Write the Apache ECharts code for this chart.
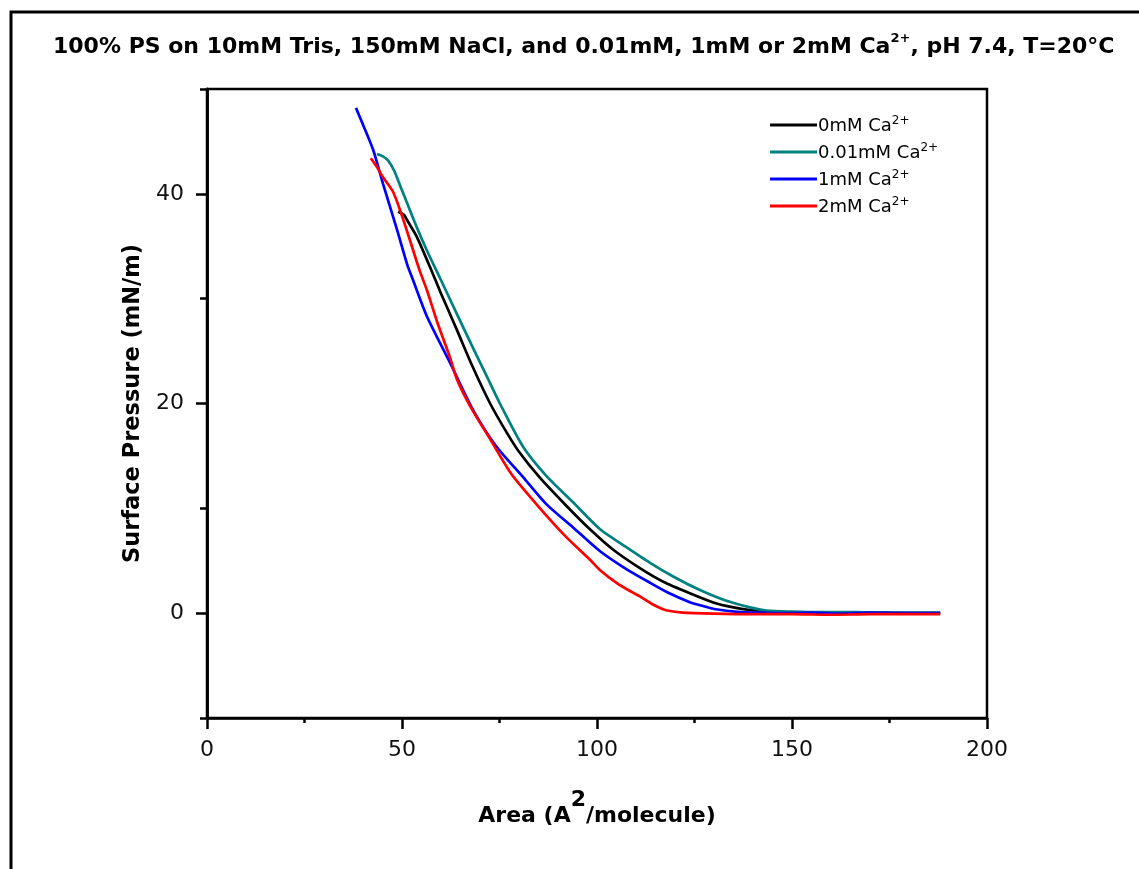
<!DOCTYPE html>
<html>
<head>
<meta charset="utf-8">
<script src="https://cdn.jsdelivr.net/npm/echarts@6/dist/echarts.min.js"></script>
<style>
html,body{margin:0;padding:0;background:#fff;}
#c{width:1139px;height:869px;}
</style>
</head>
<body>
<div id="c"></div>
<script>
// ---- data ----
const seriesNames = ['0mM Ca2+', '0.01mM Ca2+', '1mM Ca2+', '2mM Ca2+'];

const black_x = [49.0, 50.5, 51.3, 53.8, 57.2, 60.0, 64.1, 68.0, 72.6, 76.9, 80.0, 85.4, 92.0, 98.2, 104.0, 111.0, 117.0, 123.8, 130.0, 135.0, 139.2, 145.0, 150, 158, 166, 174, 181, 188];
const black_y = [38.3, 38.0, 37.5, 35.9, 33.0, 30.5, 27.0, 23.6, 20.0, 17.2, 15.4, 12.9, 10.3, 8.0, 6.1, 4.3, 3.0, 1.9, 1.0, 0.55, 0.3, 0.1, 0.05, 0.05, 0.0, 0.05, 0.0, 0.0];

const teal_x = [43.6, 45.0, 46.4, 48.0, 49.5, 51.0, 53.8, 56.5, 59.7, 64.0, 68.2, 72.0, 75.1, 81.0, 87.0, 93.8, 100.8, 106.7, 113.6, 120.0, 126.4, 133.0, 139.2, 143.5, 150, 158, 166, 174, 181, 188];
const teal_y = [43.8, 43.6, 43.2, 42.2, 40.8, 39.4, 36.8, 34.5, 32.0, 28.6, 25.3, 22.4, 20.0, 15.9, 13.1, 10.6, 8.0, 6.5, 4.8, 3.4, 2.2, 1.2, 0.55, 0.25, 0.15, 0.1, 0.1, 0.05, 0.05, 0.05];

const blue_x = [38.2, 40.0, 42.6, 45.1, 48.7, 51.3, 52.8, 56.4, 62.3, 68.2, 74.0, 81.0, 87.0, 93.8, 100.8, 106.7, 113.6, 118.0, 123.8, 126.4, 130.0, 136.7, 142, 148, 155, 162, 170, 178, 188];
const blue_y = [48.2, 46.6, 44.2, 41.0, 36.6, 33.3, 31.8, 28.3, 23.9, 19.4, 16.0, 13.0, 10.4, 8.2, 5.9, 4.4, 2.9, 2.0, 1.05, 0.76, 0.4, 0.1, 0.05, 0.0, 0.05, -0.05, 0.05, 0.0, 0.0];

const red_x = [42.0, 43.5, 45.1, 47.7, 50.0, 52.1, 54.6, 56.4, 59.0, 62.3, 64.1, 67.4, 72.6, 78.0, 85.4, 92.0, 98.2, 100.8, 105.0, 109.0, 111.0, 114.0, 116.2, 118.0, 122.0, 130, 140, 150, 160, 170, 180, 188];
const red_y = [43.4, 42.6, 41.6, 40.2, 37.9, 35.5, 32.6, 30.8, 27.8, 24.4, 22.3, 19.8, 16.6, 13.3, 10.0, 7.3, 5.1, 4.1, 2.9, 2.0, 1.6, 0.9, 0.5, 0.25, 0.05, -0.05, -0.1, -0.1, -0.15, -0.1, -0.1, -0.1];

const xTicksMajor = [0, 50, 100, 150, 200];
const yTicksMajor = [0, 20, 40];
const yTicksMinor = [-10, 10, 30, 50];

// ---- chart ----
const FONT = 'DejaVu Sans, sans-serif';
const colors = ['#000000', '#008080', '#0000ff', '#ff0000'];
const xs = [black_x, teal_x, blue_x, red_x];
const ys = [black_y, teal_y, blue_y, red_y];

function zip(a, b) { return a.map((v, i) => [v, b[i]]); }

const chart = echarts.init(document.getElementById('c'), null, {renderer: 'canvas'});

const option = {
  animation: false,
  backgroundColor: '#ffffff',
  title: {
    text: '{t|100% PS on 10mM Tris, 150mM NaCl, and 0.01mM, 1mM or 2mM Ca}{s|2+}{t|, pH 7.4, T=20°C}',
    left: 48,
    top: 27,
    textStyle: {
      rich: {
        t: {fontFamily: FONT, fontWeight: 'bold', fontSize: 22, color: '#000', lineHeight: 26, verticalAlign: 'bottom'},
        s: {fontFamily: FONT, fontWeight: 'bold', fontSize: 13, color: '#000', lineHeight: 10, verticalAlign: 'top'}
      }
    }
  },
  graphic: [{
    type: 'rect',
    silent: true,
    shape: {x: 11, y: 12, width: 1200, height: 1000},
    style: {fill: 'none', stroke: '#000', lineWidth: 3}
  }],
  legend: {
    left: 765,
    top: 110,
    orient: 'vertical',
    itemWidth: 47,
    itemHeight: 3,
    itemGap: 7,
    icon: 'rect',
    data: seriesNames,
    formatter: function (name) { return '{n|' + name.replace('2+', '') + '}{s|2+}'; },
    textStyle: {
      padding: [0, 0, 0, -4],
      rich: {
        n: {fontFamily: FONT, fontSize: 18, color: '#000', lineHeight: 20, verticalAlign: 'bottom'},
        s: {fontFamily: FONT, fontSize: 12, color: '#000', lineHeight: 13, verticalAlign: 'top'}
      }
    }
  },
  grid: {
    left: 207, right: 152, top: 89, bottom: 151,
    containLabel: false,
    outerBoundsMode: 'none',
    show: true,
    borderColor: '#000',
    borderWidth: 2.5,
    backgroundColor: 'transparent'
  },
  xAxis: {
    type: 'value',
    min: 0, max: 200, interval: 50,
    name: '{a|Area (A}{s|2}{a|/molecule)}',
    nameLocation: 'middle',
    nameGap: 71,
    nameTextStyle: {
      rich: {
        a: {fontFamily: FONT, fontWeight: 'bold', fontSize: 22, color: '#000', lineHeight: 38, verticalAlign: 'bottom'},
        s: {fontFamily: FONT, fontWeight: 'bold', fontSize: 22, color: '#000', lineHeight: 18, verticalAlign: 'top'}
      }
    },
    axisLine: {show: true, onZero: false, lineStyle: {color: '#000', width: 2.5}},
    axisTick: {show: true, inside: false, length: 11, lineStyle: {color: '#000', width: 2.5}, customValues: xTicksMajor},
    minorTick: {show: true, splitNumber: 2, length: 5, lineStyle: {color: '#000', width: 2.5}},
    axisLabel: {show: true, margin: 21, fontFamily: FONT, fontSize: 22, color: '#111', customValues: xTicksMajor},
    splitLine: {show: false},
    minorSplitLine: {show: false}
  },
  yAxis: [{
    type: 'value',
    min: -10, max: 50, interval: 10,
    position: 'left',
    name: 'Surface Pressure (mN/m)',
    nameLocation: 'middle',
    nameGap: 62,
    nameRotate: 90,
    nameTextStyle: {fontFamily: FONT, fontWeight: 'bold', fontSize: 22.5, color: '#000'},
    axisLine: {show: true, onZero: false, lineStyle: {color: '#000', width: 2.5}},
    axisTick: {show: true, inside: false, length: 11, lineStyle: {color: '#000', width: 2.5}, customValues: yTicksMajor},
    axisLabel: {show: true, margin: 23, fontFamily: FONT, fontSize: 22, color: '#111', customValues: yTicksMajor},
    splitLine: {show: false}
  }, {
    type: 'value',
    min: -10, max: 50, interval: 10,
    position: 'left',
    axisLine: {show: true, onZero: false, lineStyle: {color: '#000', width: 2.5}},
    axisTick: {show: true, inside: false, length: 7, lineStyle: {color: '#000', width: 2.5}, customValues: yTicksMinor},
    axisLabel: {show: false},
    splitLine: {show: false}
  }],
  series: seriesNames.map((n, i) => ({
    name: n,
    type: 'line',
    yAxisIndex: 0,
    data: zip(xs[i], ys[i]),
    showSymbol: false,
    symbol: 'none',
    smooth: 0.25,
    color: colors[i],
    lineStyle: {color: colors[i], width: 2.7}
  }))
};

chart.setOption(option);
</script>
</body>
</html>
